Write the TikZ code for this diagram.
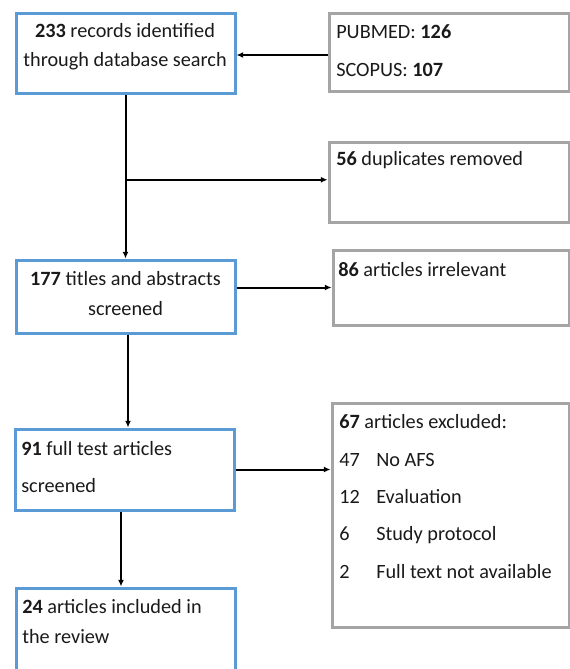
\documentclass[tikz,border=0pt]{standalone}
\usepackage{fontspec}
\setmainfont{Carlito}
\usepackage{tikz}
\usetikzlibrary{positioning, arrows.meta, calc}
\usepackage{xcolor}
\definecolor{BoxBlue}{HTML}{5B9BD5}
\definecolor{BoxGrey}{HTML}{A5A5A5}
\definecolor{Ink}{HTML}{1A1A1A}

\begin{document}
\begin{tikzpicture}[
    x=0.75pt, y=-0.75pt,
    every node/.style={font=\fontsize{15.2}{21.75}\selectfont, text=Ink},
    stagebox/.style={draw=BoxBlue, line width=2.25pt, inner sep=0pt},
    sidebox/.style={draw=BoxGrey, line width=2.25pt, inner sep=0pt},
    txt/.style={inner sep=0pt},
    arr/.style={-{Latex[length=5pt, width=4.5pt]}, line width=1.5pt, black}
]
\useasboundingbox (0,0) rectangle (570,669);

% === LEFT COLUMN: stages ===
\node[stagebox, minimum width=219*0.75pt, minimum height=80*0.75pt] (rec) at (125.5,53) {};
\node[txt, align=center] (rectxt) at (125,46.5) {\textbf{233} records identified\\through database search};

\node[stagebox, minimum width=219*0.75pt, minimum height=73*0.75pt] (scr) at (125.5,296.5) {};
\node[txt, align=center, font=\fontsize{15.2}{22.5}\selectfont] (scrtxt) at (125.5,294) {\textbf{177} titles and abstracts\\screened};

\node[stagebox, minimum width=219*0.75pt, minimum height=81*0.75pt] (full) at (124.5,469.5) {};
\node[txt, align=left, anchor=west, font=\fontsize{15.2}{27.75}\selectfont] (fulltxt) at (21,467.5) {\textbf{91} full test articles\\screened};

% last box runs off the page
\node[stagebox, minimum width=219*0.75pt, minimum height=102*0.75pt] (inc) at (125.5,639) {};
\node[txt, align=left, anchor=west, font=\fontsize{15.2}{22.5}\selectfont] (inctxt) at (22,622) {\textbf{24} articles included in\\the review};

% === RIGHT COLUMN: sources and exclusions ===
\node[sidebox, minimum width=240*0.75pt, minimum height=78*0.75pt] (db) at (449,52) {};
\node[txt, align=left, anchor=west, font=\fontsize{15.2}{28.5}\selectfont] (dbtxt) at (336,51) {PUBMED: \textbf{126}\\SCOPUS: \textbf{107}};

\node[sidebox, minimum width=240*0.75pt, minimum height=80*0.75pt] (dup) at (449,182) {};
\node[txt, anchor=west] (duptxt) at (336,160) {\textbf{56} duplicates removed};

\node[sidebox, minimum width=236*0.75pt, minimum height=75*0.75pt] (irr) at (451,287.5) {};
\node[txt, anchor=west] (irrtxt) at (338,270) {\textbf{86} articles irrelevant};

\node[sidebox, minimum width=237*0.75pt, minimum height=224*0.75pt] (exc) at (450.5,515) {};
\node[txt, align=left, anchor=west, font=\fontsize{15.2}{28}\selectfont] (exctxt) at (339,496.5)
    {\textbf{67} articles excluded:\\
     \makebox[27.75pt][l]{47}No AFS\\
     \makebox[27.75pt][l]{12}Evaluation\\
     \makebox[27.75pt][l]{6}Study protocol\\
     \makebox[27.75pt][l]{2}Full text not available};

% === CONNECTORS ===
\coordinate (split) at ($(rec.south)!0.52!(scr.north)$);
\draw[arr] (db.west |- 0,55) -- (rec.east |- 0,55);
\draw[arr] (rec) -- (scr);
\draw[arr] (split) -- (split -| dup.west);
\draw[arr] (irr.west -| scr.east) -- (irr.west);
\draw[arr] ([xshift=2.5*0.75pt]scr.south) -- ([xshift=2.5*0.75pt]scr.south |- full.north);
\draw[arr] (full.east) -- (full.east -| exc.west);
\draw[arr] ([xshift=-3.5*0.75pt]full.south) -- ([xshift=-3.5*0.75pt]full.south |- inc.north);

\end{tikzpicture}
\end{document}
